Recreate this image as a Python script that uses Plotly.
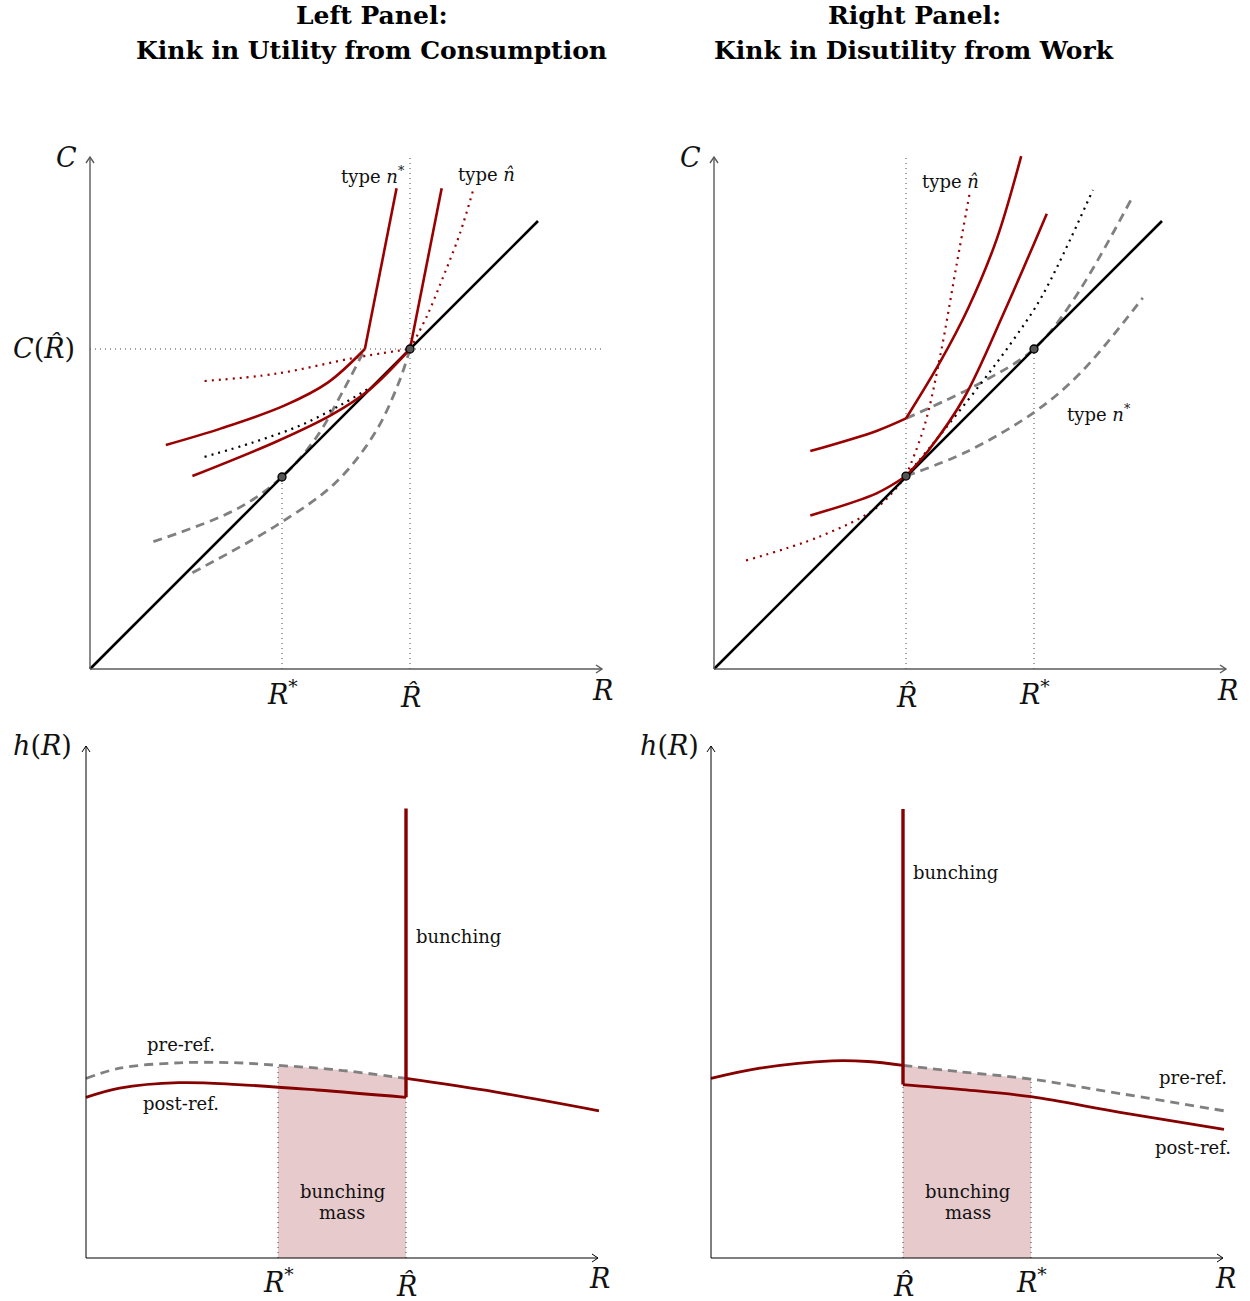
import plotly.graph_objects as go

W, H = 1250, 1301
PX = 32.0  # pixels per data unit

# ---------------- data ----------------
AXIS_LEN = 16.0
# Top-left panel: kink in utility from consumption
TL_R_STAR, TL_R_HAT, TL_C_HAT = 6.0, 10.0, 10.0
TL_budget_x = [0, 14.0]
TL_budget_y = [0, 14.0]
TL_nstar_left_x = [2.37, 4.10, 6.07, 7.43, 8.59]
TL_nstar_left_y = [7.00, 7.52, 8.23, 8.95, 10.0]
TL_nstar_right_x = [8.59, 9.58]
TL_nstar_right_y = [10.0, 15.02]
TL_nhat_left_x = [3.20, 5.83, 7.56, 8.73, 10.0]
TL_nhat_left_y = [6.03, 7.11, 7.95, 8.73, 10.0]
TL_nhat_right_x = [10.0, 10.99]
TL_nhat_right_y = [10.0, 15.02]
TL_reddot_left_x = [3.58, 5.83, 8.30, 10.0]
TL_reddot_left_y = [9.00, 9.23, 9.73, 10.0]
TL_reddot_right_x = [10.0, 10.52, 11.04, 11.56, 11.98]
TL_reddot_right_y = [10.0, 11.01, 12.26, 13.61, 14.99]
TL_blackdot_x = [3.58, 5.09, 6.57, 7.80, 8.73]
TL_blackdot_y = [6.63, 7.08, 7.61, 8.23, 8.78]
TL_gray_up_x = [1.98, 4.59, 6.0, 7.06, 7.93, 8.59]
TL_gray_up_y = [3.98, 5.00, 6.0, 7.22, 8.73, 10.0]
TL_gray_lo_x = [3.20, 5.83, 7.68, 8.91, 9.65, 10.0]
TL_gray_lo_y = [3.01, 4.49, 5.83, 7.39, 8.95, 10.0]
TL_points_x = [6.0, 10.0]
TL_points_y = [6.0, 10.0]

# Top-right panel: kink in disutility from work
TR_R_HAT, TR_R_STAR = 6.0, 10.0
TR_budget_x = [0, 14.0]
TR_budget_y = [0, 14.0]
TR_up_left_x = [3.01, 5.08, 6.0]
TR_up_left_y = [6.81, 7.44, 7.83]
TR_up_right_x = [6.0, 7.08, 7.95, 8.83, 9.60]
TR_up_right_y = [7.83, 9.62, 11.29, 13.42, 16.03]
TR_lo_left_x = [3.01, 5.08, 6.0]
TR_lo_left_y = [4.80, 5.49, 6.03]
TR_lo_right_x = [6.0, 6.70, 7.83, 9.08, 10.40]
TR_lo_right_y = [6.03, 6.83, 8.50, 11.18, 14.23]
TR_reddot_left_x = [1.0, 3.33, 5.08, 6.0]
TR_reddot_left_y = [3.39, 4.15, 5.04, 6.03]
TR_reddot_right_x = [6.0, 6.58, 7.08, 7.58, 7.99]
TR_reddot_right_y = [6.03, 7.61, 9.84, 12.63, 14.87]
TR_blackdot_x = [6.0, 6.85, 8.31, 9.35, 10.25, 11.84]
TR_blackdot_y = [6.03, 7.05, 8.88, 10.28, 11.65, 14.97]
TR_gray_up_x = [6.0, 8.31, 10.0, 11.23, 13.03]
TR_gray_up_y = [7.83, 8.93, 10.0, 11.53, 14.66]
TR_gray_lo_x = [6.0, 7.90, 10.03, 11.44, 13.40]
TR_gray_lo_y = [6.03, 6.79, 8.04, 9.24, 11.60]
TR_points_x = [6.0, 10.0]
TR_points_y = [6.03, 10.0]

# Bottom-left density
BL_R_STAR, BL_R_HAT = 6.0, 10.0
BL_post_left_x = [0.0, 1.05, 2.90, 4.75, 7.22, 10.0]
BL_post_left_y = [5.02, 5.31, 5.48, 5.42, 5.25, 5.02]
BL_post_right_x = [10.0, 12.78, 16.03]
BL_post_right_y = [5.61, 5.19, 4.60]
BL_pre_x = [0.0, 1.05, 2.90, 4.75, 6.0, 7.84, 10.0]
BL_pre_y = [5.61, 5.93, 6.10, 6.10, 6.02, 5.88, 5.61]
BL_spike_top = 14.05

# Bottom-right density
BR_R_HAT, BR_R_STAR = 6.0, 10.0
BR_left_x = [0.0, 1.53, 3.78, 4.90, 6.0]
BR_left_y = [5.61, 5.93, 6.16, 6.14, 6.02]
BR_post_x = [6.0, 7.78, 10.0, 12.78, 16.03]
BR_post_y = [5.42, 5.27, 5.04, 4.55, 4.02]
BR_pre_x = [6.0, 7.78, 10.0, 12.78, 16.03]
BR_pre_y = [6.02, 5.82, 5.59, 5.14, 4.60]
BR_spike_top = 14.03

# ---------------- styles ----------------
RED = '#9b0000'
RED_B = '#860000'
GRAY = '#808080'
SHADE = '#e7cacc'
SERIF = 'DejaVu Serif'
MATH = 27
SMALL = 18

panels = {
    'TL': dict(ax=('x', 'y'), origin=(90, 669), box=(0, 625, 110, 720)),
    'TR': dict(ax=('x2', 'y2'), origin=(714, 669), box=(625, 1250, 110, 720)),
    'BL': dict(ax=('x3', 'y3'), origin=(86, 1258), box=(0, 625, 720, 1301)),
    'BR': dict(ax=('x4', 'y4'), origin=(711, 1258), box=(625, 1250, 720, 1301)),
}

fig = go.Figure()
layout = dict(width=W, height=H, margin=dict(l=0, r=0, t=0, b=0),
              paper_bgcolor='white', plot_bgcolor='rgba(0,0,0,0)', showlegend=False)
for key, p in panels.items():
    xa, ya = p['ax']
    ox, oy = p['origin']
    x0, x1, yt, yb = p['box']
    xname = 'xaxis' if xa == 'x' else 'xaxis' + xa[1:]
    yname = 'yaxis' if ya == 'y' else 'yaxis' + ya[1:]
    layout[xname] = dict(domain=[x0 / W, x1 / W], range=[(x0 - ox) / PX, (x1 - ox) / PX],
                         anchor=ya, visible=False, fixedrange=True)
    layout[yname] = dict(domain=[1 - yb / H, 1 - yt / H], range=[(oy - yb) / PX, (oy - yt) / PX],
                         anchor=xa, visible=False, fixedrange=True)
fig.update_layout(**layout)


def line(panel, x, y, color, width, dash=None, spline=False):
    xa, ya = panels[panel]['ax']
    fig.add_trace(go.Scatter(x=x, y=y, mode='lines', xaxis=xa, yaxis=ya, hoverinfo='skip',
                             line=dict(color=color, width=width, dash=dash,
                                       shape='spline' if spline else 'linear', smoothing=1.0)))


def guide(panel, x, y, color='#444444'):
    line(panel, x, y, color, 1, dash='1px,4px')


def axes_arrows(panel, color, width):
    xa, ya = panels[panel]['ax']
    L = AXIS_LEN
    back, half = 6 / PX, 4 / PX
    paths = [
        f'M 0 0 L {L} 0', f'M {L-back} {half} L {L} 0 L {L-back} {-half}',
        f'M 0 0 L 0 {L}', f'M {half} {L-back} L 0 {L} L {-half} {L-back}',
    ]
    for pth in paths:
        fig.add_shape(type='path', path=pth, xref=xa, yref=ya,
                      line=dict(color=color, width=width))


def text(panel, x, y, s, size=SMALL, xanchor='center', yanchor='middle'):
    xa, ya = panels[panel]['ax']
    fig.add_annotation(x=x, y=y, xref=xa, yref=ya, text=s, showarrow=False,
                       xanchor=xanchor, yanchor=yanchor,
                       font=dict(family=SERIF, size=size, color='#111111'))


def points(panel, x, y):
    xa, ya = panels[panel]['ax']
    fig.add_trace(go.Scatter(x=x, y=y, mode='markers', xaxis=xa, yaxis=ya, hoverinfo='skip',
                             marker=dict(size=8, color='#555555', line=dict(color='black', width=1.3))))


RHAT = '<i>R\u0302</i>'
RSTAR = '<i>R</i><sup>*</sup>'

# ---------------- top-left ----------------
guide('TL', [TL_R_STAR, TL_R_STAR], [0, TL_R_STAR])
guide('TL', [TL_R_HAT, TL_R_HAT], [0, AXIS_LEN])
guide('TL', [0, AXIS_LEN], [TL_C_HAT, TL_C_HAT])
line('TL', TL_gray_up_x, TL_gray_up_y, GRAY, 2.8, dash='9px,6px', spline=True)
line('TL', TL_gray_lo_x, TL_gray_lo_y, GRAY, 2.8, dash='9px,6px', spline=True)
line('TL', TL_blackdot_x, TL_blackdot_y, 'black', 2.2, dash='2px,5px', spline=True)
line('TL', TL_reddot_left_x, TL_reddot_left_y, RED, 2.2, dash='2px,5px', spline=True)
line('TL', TL_reddot_right_x, TL_reddot_right_y, RED, 2.2, dash='2px,5px', spline=True)
line('TL', TL_budget_x, TL_budget_y, 'black', 2.6)
line('TL', TL_nstar_left_x, TL_nstar_left_y, RED, 2.6, spline=True)
line('TL', TL_nstar_right_x, TL_nstar_right_y, RED, 2.6)
line('TL', TL_nhat_left_x, TL_nhat_left_y, RED, 2.6, spline=True)
line('TL', TL_nhat_right_x, TL_nhat_right_y, RED, 2.6)
points('TL', TL_points_x, TL_points_y)
axes_arrows('TL', '#5a5a5a', 1.4)
text('TL', -0.75, 16.0, '<i>C</i>', MATH)
text('TL', -1.44, 10.03, '<i>C</i>(' + RHAT + ')', MATH)
text('TL', TL_R_STAR, -0.72, RSTAR, MATH)
text('TL', TL_R_HAT, -0.88, RHAT, MATH)
text('TL', 16.03, -0.66, '<i>R</i>', MATH)
text('TL', 9.9, 15.44, 'type <i>n</i><sup>*</sup>', xanchor='right')
text('TL', 12.4, 15.44, 'type <i>n\u0302</i>')

# ---------------- top-right ----------------
guide('TR', [TR_R_HAT, TR_R_HAT], [0, AXIS_LEN])
guide('TR', [TR_R_STAR, TR_R_STAR], [0, TR_R_STAR])
line('TR', TR_gray_up_x, TR_gray_up_y, GRAY, 2.8, dash='9px,6px', spline=True)
line('TR', TR_gray_lo_x, TR_gray_lo_y, GRAY, 2.8, dash='9px,6px', spline=True)
line('TR', TR_blackdot_x, TR_blackdot_y, 'black', 2.2, dash='2px,5px', spline=True)
line('TR', TR_reddot_left_x, TR_reddot_left_y, RED, 2.2, dash='2px,5px', spline=True)
line('TR', TR_reddot_right_x, TR_reddot_right_y, RED, 2.2, dash='2px,5px', spline=True)
line('TR', TR_budget_x, TR_budget_y, 'black', 2.6)
line('TR', TR_up_left_x, TR_up_left_y, RED, 2.6, spline=True)
line('TR', TR_up_right_x, TR_up_right_y, RED, 2.6, spline=True)
line('TR', TR_lo_left_x, TR_lo_left_y, RED, 2.6, spline=True)
line('TR', TR_lo_right_x, TR_lo_right_y, RED, 2.6, spline=True)
points('TR', TR_points_x, TR_points_y)
axes_arrows('TR', '#5a5a5a', 1.4)
text('TR', -0.72, 16.0, '<i>C</i>', MATH)
text('TR', TR_R_HAT, -0.88, RHAT, MATH)
text('TR', TR_R_STAR, -0.72, RSTAR, MATH)
text('TR', 16.06, -0.66, '<i>R</i>', MATH)
text('TR', 7.4, 15.25, 'type <i>n\u0302</i>')
text('TR', 12.03, 8.01, 'type <i>n</i><sup>*</sup>')

# ---------------- bottom-left ----------------
bl_sx = [x for x in BL_pre_x if BL_R_STAR <= x <= BL_R_HAT]
bl_sy = [y for x, y in zip(BL_pre_x, BL_pre_y) if BL_R_STAR <= x <= BL_R_HAT]
fig.add_trace(go.Scatter(x=[BL_R_STAR] + bl_sx + [BL_R_HAT], y=[0] + bl_sy + [0], mode='lines',
                         fill='toself', fillcolor=SHADE, line=dict(width=0), xaxis='x3', yaxis='y3',
                         hoverinfo='skip'))
guide('BL', [BL_R_STAR, BL_R_STAR], [0, bl_sy[0]])
guide('BL', [BL_R_HAT, BL_R_HAT], [0, BL_post_left_y[-1]])
line('BL', BL_pre_x, BL_pre_y, GRAY, 2.8, dash='9px,6px', spline=True)
line('BL', BL_post_left_x, BL_post_left_y, RED_B, 2.8, spline=True)
line('BL', BL_post_right_x, BL_post_right_y, RED_B, 2.8, spline=True)
line('BL', [BL_R_HAT, BL_R_HAT], [BL_post_left_y[-1], BL_spike_top], RED_B, 3.4)
axes_arrows('BL', 'black', 1.0)
text('BL', -1.375, 16.03, '<i>h</i>(<i>R</i>)', MATH)
text('BL', BL_R_STAR, -0.69, RSTAR, MATH)
text('BL', BL_R_HAT, -0.86, RHAT, MATH)
text('BL', 16.06, -0.63, '<i>R</i>', MATH)
text('BL', 10.25, 10.06, 'bunching', xanchor='left')
text('BL', 2.97, 6.66, 'pre-ref.')
text('BL', 2.97, 4.84, 'post-ref.')
text('BL', 8.0, 2.07, 'bunching')
text('BL', 8.0, 1.41, 'mass')

# ---------------- bottom-right ----------------
br_sx = [x for x in BR_pre_x if BR_R_HAT <= x <= BR_R_STAR]
br_sy = [y for x, y in zip(BR_pre_x, BR_pre_y) if BR_R_HAT <= x <= BR_R_STAR]
fig.add_trace(go.Scatter(x=[BR_R_HAT] + br_sx + [BR_R_STAR], y=[0] + br_sy + [0], mode='lines',
                         fill='toself', fillcolor=SHADE, line=dict(width=0), xaxis='x4', yaxis='y4',
                         hoverinfo='skip'))
guide('BR', [BR_R_HAT, BR_R_HAT], [0, BR_post_y[0]])
guide('BR', [BR_R_STAR, BR_R_STAR], [0, br_sy[-1]])
line('BR', BR_pre_x, BR_pre_y, GRAY, 2.8, dash='9px,6px', spline=True)
line('BR', BR_left_x, BR_left_y, RED_B, 2.8, spline=True)
line('BR', BR_post_x, BR_post_y, RED_B, 2.8, spline=True)
line('BR', [BR_R_HAT, BR_R_HAT], [BR_post_y[0], BR_spike_top], RED_B, 3.4)
axes_arrows('BR', 'black', 1.0)
text('BR', -1.31, 16.03, '<i>h</i>(<i>R</i>)', MATH)
text('BR', BR_R_HAT, -0.86, RHAT, MATH)
text('BR', BR_R_STAR, -0.69, RSTAR, MATH)
text('BR', 16.09, -0.63, '<i>R</i>', MATH)
text('BR', 6.25, 12.06, 'bunching', xanchor='left')
text('BR', 15.06, 5.63, 'pre-ref.')
text('BR', 15.06, 3.44, 'post-ref.')
text('BR', 8.03, 2.07, 'bunching')
text('BR', 8.03, 1.41, 'mass')

# ---------------- titles ----------------
titles = [("Left Panel:", 372, 16), ("Kink in Utility from Consumption", 372, 51),
          ("Right Panel:", 914, 16), ("Kink in Disutility from Work", 914, 51)]
for s, px, py in titles:
    fig.add_annotation(x=px / W, y=1 - py / H, xref='paper', yref='paper', text='<b>' + s + '</b>',
                       showarrow=False, xanchor='center', yanchor='middle',
                       font=dict(family=SERIF, size=25, color='black'))

fig.write_html("out.html")
